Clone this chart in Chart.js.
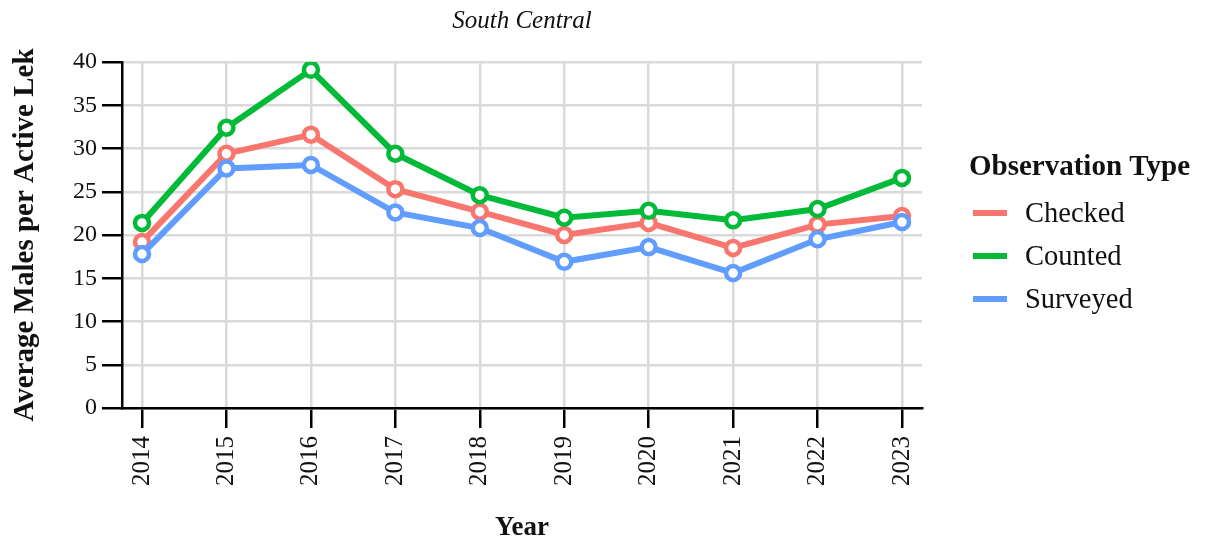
<!DOCTYPE html>
<html>
<head>
<meta charset="utf-8">
<title>South Central</title>
<script src="https://cdn.jsdelivr.net/npm/chart.js@4.4.1/dist/chart.umd.min.js"></script>
<style>
    html, body { margin: 0; padding: 0; background: #fff; }
    #grafica { display: block; }
</style>
</head>
<body>
<canvas id="grafica" width="1205" height="544"></canvas>
<script>
const anios = [2014, 2015, 2016, 2017, 2018, 2019, 2020, 2021, 2022, 2023];
const checked = [19.2, 29.4, 31.6, 25.3, 22.7, 20.0, 21.4, 18.5, 21.2, 22.2];
const counted = [21.4, 32.4, 39.1, 29.4, 24.6, 22.0, 22.8, 21.7, 23.0, 26.6];
const surveyed = [17.8, 27.7, 28.1, 22.6, 20.8, 16.9, 18.6, 15.6, 19.5, 21.5];
const ticksY = [0, 5, 10, 15, 20, 25, 30, 35, 40];
const nombresSeries = ["Checked", "Counted", "Surveyed"];
const coloresSeries = ["#F8766D", "#00BA38", "#619CFF"];

const fuente = "'Liberation Serif', 'Times New Roman', serif";
const colorGrid = "#dadada";

function puntos(valores) {
    return anios.map((anio, i) => ({ x: anio, y: valores[i] }));
}

function serie(nombre, valores, indice, orden) {
    return {
        label: nombre,
        data: puntos(valores),
        borderColor: coloresSeries[indice],
        backgroundColor: "#ffffff",
        borderWidth: 6,
        pointRadius: 7,
        pointBorderWidth: 4.5,
        pointBackgroundColor: "#ffffff",
        pointBorderColor: coloresSeries[indice],
        tension: 0,
        order: orden
    };
}

// titulo centrado sobre el area del grafico y leyenda a la derecha
const decoraciones = {
    id: "decoraciones",
    afterDraw(chart) {
        const { ctx, chartArea } = chart;
        ctx.save();
        ctx.fillStyle = "#111";
        ctx.textBaseline = "middle";
        ctx.textAlign = "center";
        ctx.font = `italic 25px ${fuente}`;
        ctx.fillText("South Central", (chartArea.left + chartArea.right) / 2, 21);

        ctx.textAlign = "left";
        ctx.font = `bold 29px ${fuente}`;
        ctx.fillText("Observation Type", 969, 168);

        ctx.font = `28.5px ${fuente}`;
        chart.data.datasets.forEach((ds, i) => {
            const y = 213 + i * 43;
            ctx.strokeStyle = ds.borderColor;
            ctx.lineWidth = 6;
            ctx.beginPath();
            ctx.moveTo(973, y);
            ctx.lineTo(1007, y);
            ctx.stroke();
            ctx.fillStyle = "#111";
            ctx.fillText(ds.label, 1025, y + 2);
        });
        ctx.restore();
    }
};

new Chart(document.getElementById("grafica"), {
    type: "line",
    data: {
        datasets: [
            serie(nombresSeries[0], checked, 0, 3),
            serie(nombresSeries[1], counted, 1, 2),
            serie(nombresSeries[2], surveyed, 2, 1)
        ]
    },
    options: {
        responsive: false,
        animation: false,
        devicePixelRatio: 1,
        layout: { padding: { top: 62, right: 283, left: 0, bottom: 0 } },
        plugins: {
            legend: { display: false },
            tooltip: { enabled: false }
        },
        scales: {
            x: {
                type: "linear",
                min: 2014 - 20 / (760 / 9),
                max: 2023 + 20 / (760 / 9),
                afterBuildTicks: scale => { scale.ticks = anios.map(v => ({ value: v })); },
                afterFit: scale => { scale.height = 136; },
                ticks: {
                    color: "#111",
                    font: { family: fuente, size: 25 },
                    padding: 8,
                    minRotation: 90,
                    maxRotation: 90,
                    autoSkip: false,
                    callback: valor => String(valor)
                },
                grid: { color: colorGrid, lineWidth: 2.5, tickColor: "#000", tickLength: 20, tickWidth: 2.5 },
                border: { display: true, color: "#000", width: 2.5 },
                title: {
                    display: true,
                    text: "Year",
                    color: "#111",
                    font: { family: fuente, size: 27, weight: "bold" },
                    padding: { top: 0, bottom: 0 }
                }
            },
            y: {
                min: 0,
                max: 40,
                afterBuildTicks: scale => { scale.ticks = ticksY.map(v => ({ value: v })); },
                afterFit: scale => { scale.width = 122; },
                ticks: {
                    color: "#111",
                    font: { family: fuente, size: 24 },
                    padding: 5
                },
                grid: { color: colorGrid, lineWidth: 2.5, tickColor: "#000", tickLength: 20, tickWidth: 2.5 },
                border: { display: true, color: "#000", width: 2.5 },
                title: {
                    display: true,
                    text: "Average Males per Active Lek",
                    color: "#111",
                    font: { family: fuente, size: 29, weight: "bold" },
                    padding: { top: 8, bottom: 0 }
                }
            }
        }
    },
    plugins: [decoraciones]
});
</script>
</body>
</html>
